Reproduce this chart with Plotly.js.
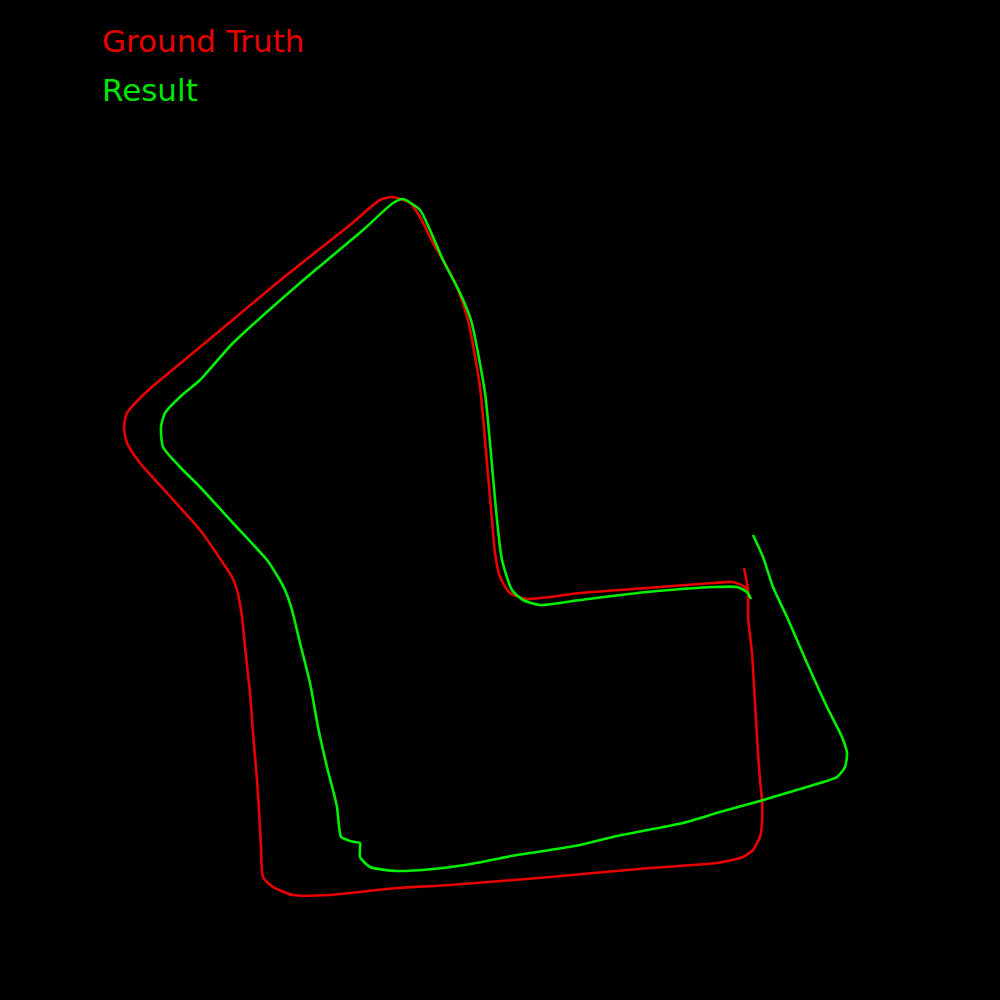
<!DOCTYPE html>
<html>
<head>
<meta charset="utf-8">
<script src="https://cdn.plot.ly/plotly-3.0.1.min.js"></script>
<style>
html,body{margin:0;padding:0;background:#000;}
#plot{width:1000px;height:1000px;}
</style>
</head>
<body>
<div id="plot"></div>
<script>
// Ground truth trajectory (image-plane coordinates)
const gtX = [744,748,748,752,755,758,760,762,762,760,757,753,743,717,650,550,450,397,350,330,293,273,263,261,259,257,253,250,245,242,237,232,223,200,167,140,127,124,127,140,153,217,283,350,380,392,410,420,433,447,457,468,480,487,492,495,500,510,527,580,647,713,733,745,750];
const gtY = [568,590,617,653,703,753,780,800,823,837,843,850,857,863,868,877,885,888,893,895,895,887,877,847,810,780,733,693,647,617,590,577,563,530,493,463,443,427,413,398,386,333,278,225,200,197,203,217,243,267,287,320,387,463,520,553,577,593,599,593,588,583,582,587,597];

// Estimated (result) trajectory
const resX = [753,763,773,787,807,827,842,847,845,837,820,790,760,720,683,617,580,530,517,465,433,397,370,360,360,360,355,350,345,341,337,335,327,318,310,300,292,285,278,267,233,200,180,163,161,165,181,200,233,300,363,393,403,420,430,443,460,471,485,493,497,502,512,523,540,580,647,713,737,747,751];
const resY = [535,557,587,617,663,707,737,753,767,777,783,792,801,812,823,836,845,853,855,865,869,871,867,857,848,843,842,841,839,837,807,798,767,727,683,643,610,590,577,560,523,487,467,447,427,413,396,380,343,283,230,203,199,210,230,260,293,320,393,477,520,560,590,600,605,600,592,587,587,592,599];

const legendLabels = ["Ground Truth", "Result"];

const data = [
  {x: gtX, y: gtY, type: 'scatter', mode: 'lines', name: legendLabels[0],
   line: {color: 'rgb(235,0,0)', width: 2.6, shape: 'spline', smoothing: 0.6}, hoverinfo: 'skip'},
  {x: resX, y: resY, type: 'scatter', mode: 'lines', name: legendLabels[1],
   line: {color: 'rgb(0,240,0)', width: 2.6, shape: 'spline', smoothing: 0.6}, hoverinfo: 'skip'}
];

const layout = {
  width: 1000, height: 1000,
  margin: {l: 0, r: 0, t: 0, b: 0, pad: 0},
  paper_bgcolor: '#000', plot_bgcolor: '#000',
  showlegend: false,
  xaxis: {range: [0, 1000], visible: false, fixedrange: true},
  yaxis: {range: [1000, 0], visible: false, fixedrange: true},
  annotations: [
    {x: 100, y: 41, xref: 'x', yref: 'y', xanchor: 'left', yanchor: 'middle', showarrow: false,
     text: legendLabels[0], font: {family: 'DejaVu Sans', size: 31, color: 'rgb(230,0,0)'}},
    {x: 100, y: 90, xref: 'x', yref: 'y', xanchor: 'left', yanchor: 'middle', showarrow: false,
     text: legendLabels[1], font: {family: 'DejaVu Sans', size: 31, color: 'rgb(0,230,0)'}}
  ]
};

Plotly.newPlot('plot', data, layout, {staticPlot: true, displayModeBar: false});
</script>
</body>
</html>
